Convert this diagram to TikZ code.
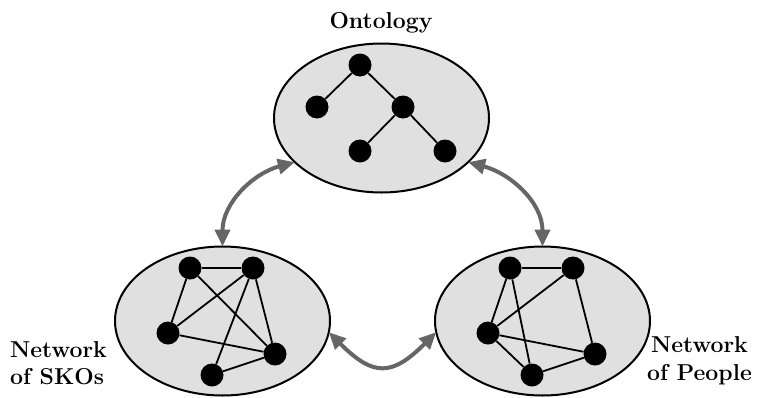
\documentclass[tikz,border=0pt]{standalone}
\usetikzlibrary{shapes.geometric,arrows.meta}
\definecolor{ellfill}{RGB}{224,224,224}
\definecolor{arrgray}{RGB}{102,102,102}
\begin{document}
\begin{tikzpicture}[x=1pt,y=-1pt,
  ell/.style={ellipse,draw=black,line width=2pt,fill=ellfill,minimum width=215pt,minimum height=149pt,inner sep=0pt,outer sep=0pt},
  dot/.style={circle,fill=black,inner sep=0pt,minimum size=23pt},
  edge/.style={line width=1.8pt,black},
  arr/.style={{Triangle[length=17pt,width=15pt]}-{Triangle[length=17pt,width=15pt]},line width=4pt,draw=arrgray},
  lbl/.style={font=\fontsize{23}{27}\selectfont\bfseries,inner sep=0pt}]
\useasboundingbox (0,0) rectangle (761,397);
% ellipses
\node[ell] (T) at (381.5,118) {};
\node[ell] (L) at (222.5,321) {};
\node[ell] (R) at (542.5,321) {};
% ontology tree
\node[dot] (t1) at (360,65) {};
\node[dot] (t2) at (317,107) {};
\node[dot] (t3) at (403,107) {};
\node[dot] (t4) at (360,151) {};
\node[dot] (t5) at (445,151) {};
\draw[edge] (t1) -- (t2);
\draw[edge] (t1) -- (t3);
\draw[edge] (t3) -- (t4);
\draw[edge] (t3) -- (t5);
% network of SKOs
\node[dot] (a1) at (190,268) {};
\node[dot] (a2) at (253,268) {};
\node[dot] (a3) at (168,333) {};
\node[dot] (a4) at (275,354) {};
\node[dot] (a5) at (212,375) {};
\draw[edge] (a1) -- (a2);
\draw[edge] (a1) -- (a3);
\draw[edge] (a1) -- (a4);
\draw[edge] (a2) -- (a3);
\draw[edge] (a2) -- (a4);
\draw[edge] (a2) -- (a5);
\draw[edge] (a3) -- (a4);
\draw[edge] (a4) -- (a5);
% network of people
\node[dot] (b1) at (510,268) {};
\node[dot] (b2) at (573,268) {};
\node[dot] (b3) at (488,333) {};
\node[dot] (b4) at (595,354) {};
\node[dot] (b5) at (532,375) {};
\draw[edge] (b1) -- (b2);
\draw[edge] (b1) -- (b3);
\draw[edge] (b1) -- (b5);
\draw[edge] (b2) -- (b3);
\draw[edge] (b2) -- (b4);
\draw[edge] (b3) -- (b4);
\draw[edge] (b3) -- (b5);
\draw[edge] (b4) -- (b5);
% arrows
\draw[arr] (L.90) to[out=90,in=195] (T.207);
\draw[arr] (T.333) to[out=-15,in=90] (R.90);
\draw[arr] (L.354) to[out=-45,in=-135,looseness=1.5] (R.186);
% labels
\node[lbl,anchor=base] (ont) at (381,28) {Ontology};
\node[lbl,anchor=base west] (ls1) at (10,357) {Network};
\node[lbl,anchor=base west] (ls2) at (10,384) {of SKOs};
\node[lbl,anchor=base west] (rp1) at (651,352) {Network};
\node[lbl,anchor=base west] (rp2) at (647,380) {of People};
\end{tikzpicture}
\end{document}
